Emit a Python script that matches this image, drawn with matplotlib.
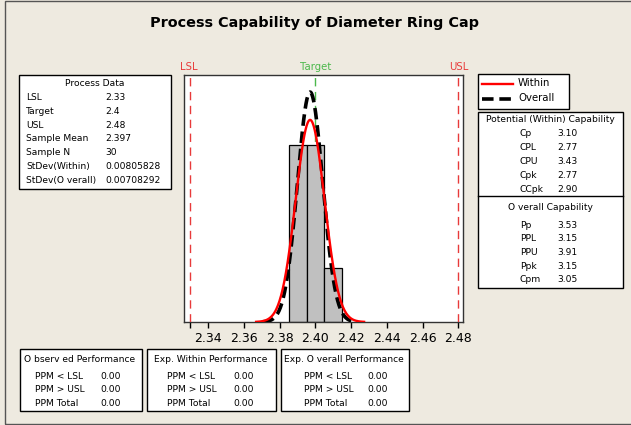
"""Process capability chart of Diameter Ring Cap (Minitab style)."""

import matplotlib
matplotlib.use("Agg")
import matplotlib.pyplot as plt
import numpy as np
from matplotlib.lines import Line2D
from matplotlib.patches import Rectangle

# process data
lsl = 2.33
target = 2.4
usl = 2.48
sample_mean = 2.397
sample_n = 30
stdev_within = 0.00805828
stdev_overall = 0.00708292

# histogram
bin_edges = [2.385, 2.395, 2.405, 2.415]
bin_counts = [13, 13, 4]
x_ticks = [2.34, 2.36, 2.38, 2.40, 2.42, 2.44, 2.46, 2.48]

process_labels = ["LSL", "Target", "USL", "Sample Mean", "Sample N",
                  "StDev(Within)", "StDev(O verall)"]
process_values = ["2.33", "2.4", "2.48", "2.397", "30",
                  "0.00805828", "0.00708292"]

potential_labels = ["Cp", "CPL", "CPU", "Cpk", "CCpk"]
potential_values = ["3.10", "2.77", "3.43", "2.77", "2.90"]
overall_labels = ["Pp", "PPL", "PPU", "Ppk", "Cpm"]
overall_values = ["3.53", "3.15", "3.91", "3.15", "3.05"]

perf_titles = ["O bserv ed Performance", "Exp. Within Performance",
               "Exp. O verall Performance"]
perf_labels = ["PPM < LSL", "PPM > USL", "PPM Total"]
observed_perf = ["0.00", "0.00", "0.00"]
within_perf = ["0.00", "0.00", "0.00"]
overall_perf = ["0.00", "0.00", "0.00"]

W, H = 631, 425
BG = "#EEEAE0"
FONT = "DejaVu Sans"
SMALL = 6.6

fig = plt.figure(figsize=(W / 100, H / 100), dpi=100, facecolor=BG)


def fx(px):
    return px / W


def fy(py):
    return 1 - py / H


def box(x0, y0, x1, y1):
    fig.add_artist(Rectangle((fx(x0), fy(y1)), fx(x1) - fx(x0), fy(y0) - fy(y1),
                             transform=fig.transFigure, facecolor="white",
                             edgecolor="black", lw=1.0))


def txt(px, py, s, ha="left", **kw):
    kw.setdefault("fontsize", SMALL)
    kw.setdefault("family", FONT)
    fig.text(fx(px), fy(py), s, ha=ha, va="center", **kw)


# outer frame
fig.add_artist(Rectangle((fx(5), fy(424)), 1.2, fy(1) - fy(424),
                         transform=fig.transFigure, facecolor="none",
                         edgecolor="#555555", lw=1.0))

txt(315, 23, "Process Capability of Diameter Ring Cap", ha="center",
    fontsize=10.4, fontweight="bold")

# histogram axes
ax = fig.add_axes([fx(184), fy(322), fx(463) - fx(184), fy(75) - fy(322)])
ax.set_facecolor("white")
widths = np.diff(bin_edges)
density = np.array(bin_counts) / (sample_n * widths)
ax.axvline(target, color="#4CB84C", lw=1.0, ls=(0, (6, 4)), zorder=1)
ax.bar(bin_edges[:-1], density, width=widths, align="edge",
       color="#C0C0C0", edgecolor="black", lw=0.9, zorder=2)


def normal_curve(sigma):
    xs = np.linspace(sample_mean - 3.75 * sigma, sample_mean + 3.75 * sigma, 200)
    ys = np.exp(-0.5 * ((xs - sample_mean) / sigma) ** 2) / (sigma * np.sqrt(2 * np.pi))
    return xs, ys


xo, yo = normal_curve(stdev_overall)
xw, yw = normal_curve(stdev_within)
ax.plot(xo, yo, color="black", lw=2.6, ls=(0, (3.2, 1.6)), zorder=3)
ax.plot(xw, yw, color="#FF0000", lw=1.7, zorder=4)
for spec in (lsl, usl):
    ax.axvline(spec, color="#E83A3A", lw=1.0, ls=(0, (6, 4)), zorder=5)

ax.set_xlim(2.3264, 2.4826)
ax.set_ylim(0, 60.5)
ax.set_yticks([])
ax.set_xticks(x_ticks)
ax.set_xticklabels([f"{t:.2f}" for t in x_ticks], fontsize=9, family=FONT)
ax.set_xticks([lsl], minor=True)
ax.tick_params(axis="x", which="both", direction="out", length=4, width=1,
               pad=3, color="black")
for sp in ax.spines.values():
    sp.set_color("#333333")
    sp.set_linewidth(1.0)

# spec labels above the plot
txt(189, 67, "LSL", ha="center", fontsize=7.3, color="#E83A3A")
txt(315.6, 67, "Target", ha="center", fontsize=7.3, color="#4CB84C")
txt(459, 67, "USL", ha="center", fontsize=7.3, color="#E83A3A")

# process data box
box(19, 75, 171, 189)
txt(95, 83, "Process Data", ha="center")
for i, (lab, val) in enumerate(zip(process_labels, process_values)):
    y = 97.5 + 13.8 * i
    txt(26, y, lab)
    txt(105, y, val)

# legend
box(478, 74, 569, 109)
fig.add_artist(Line2D([fx(482), fx(513)], [fy(84), fy(84)], color="#FF0000", lw=1.7))
fig.add_artist(Line2D([fx(482), fx(513)], [fy(99), fy(99)], color="black", lw=2.6,
                      ls=(0, (3.2, 1.6))))
txt(518, 83, "Within", fontsize=7.3)
txt(518, 98, "Overall", fontsize=7.3)

# capability box
box(478, 112, 623, 288)
fig.add_artist(Line2D([fx(478), fx(623)], [fy(196), fy(196)], color="black", lw=1.0))
txt(550, 120, "Potential (Within) Capability", ha="center")
for i, (lab, val) in enumerate(zip(potential_labels, potential_values)):
    y = 133 + 14 * i
    txt(520, y, lab)
    txt(557, y, val)
txt(550, 207, "O verall Capability", ha="center")
for i, (lab, val) in enumerate(zip(overall_labels, overall_values)):
    y = 225 + 13.7 * i
    txt(520, y, lab)
    txt(557, y, val)

# performance boxes
perf_boxes = [(20, 142), (147, 276), (281, 409)]
title_x = [24, 154, 284]
label_x = [35, 167, 304]
value_x = [100, 233, 367]
for k, values in enumerate([observed_perf, within_perf, overall_perf]):
    box(perf_boxes[k][0], 349, perf_boxes[k][1], 411)
    txt(title_x[k], 360, perf_titles[k])
    for i, (lab, val) in enumerate(zip(perf_labels, values)):
        y = 376.7 + 13.3 * i
        txt(label_x[k], y, lab)
        txt(value_x[k], y, val)

fig.savefig("out.png", dpi=100, facecolor=BG)
